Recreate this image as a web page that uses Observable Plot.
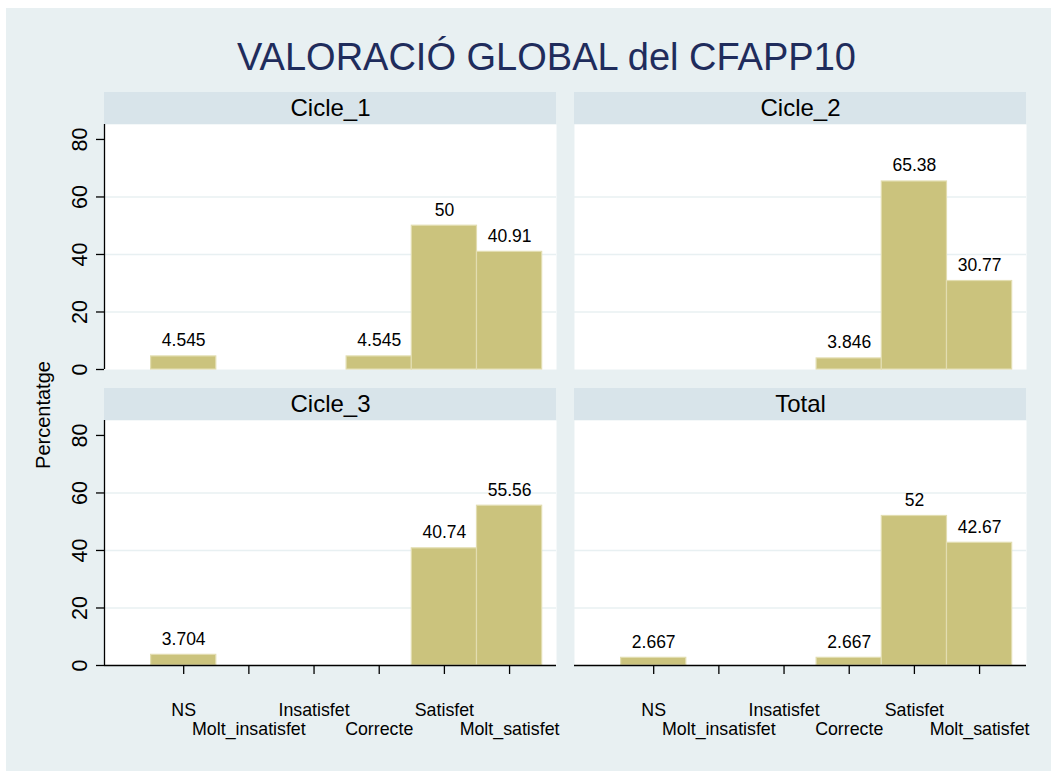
<!DOCTYPE html>
<html>
<head>
<meta charset="utf-8">
<script src="https://cdn.jsdelivr.net/npm/d3@7"></script>
<script src="https://cdn.jsdelivr.net/npm/@observablehq/plot@0.6"></script>
<style>
  html, body { margin: 0; padding: 0; background: #ffffff; }
  body { width: 1051px; height: 771px; position: relative; overflow: hidden; font-family: "Liberation Sans", Arial, sans-serif; }
  #wrap { position: absolute; left: 6px; top: 8px; width: 1045px; height: 763px; background: #e8f0f2; }
  #title { position: absolute; left: 36px; right: 0; top: 30px; text-align: center; font-size: 38px; line-height: 38px; color: #1f2c5c; white-space: nowrap; }
  #ylab { position: absolute; left: 37px; top: 407px; transform: translate(-50%, -50%) rotate(-90deg); font-size: 20px; line-height: 20px; white-space: nowrap; color: #000; }
  #chart { position: absolute; left: 0; top: 84px; }
</style>
</head>
<body>
<div id="wrap">
  <div id="title">VALORACIÓ GLOBAL del CFAPP10</div>
  <div id="ylab">Percentatge</div>
  <div id="chart"></div>
</div>
<script>
// ---- data ----
const categories = ["NS", "Molt_insatisfet", "Insatisfet", "Correcte", "Satisfet", "Molt_satisfet"];
const panels = ["Cicle_1", "Cicle_2", "Cicle_3", "Total"];
const cicle1 = [4.545, 0, 0, 4.545, 50, 40.91];
const cicle2 = [0, 0, 0, 3.846, 65.38, 30.77];
const cicle3 = [3.704, 0, 0, 0, 40.74, 55.56];
const total  = [2.667, 0, 0, 2.667, 52, 42.67];
const yTicks = [0, 20, 40, 60, 80];
const gridTicks = [20, 40, 60];

// ---- build table ----
const seriesByPanel = [cicle1, cicle2, cicle3, total];
const panelRows = panels.map((p, k) => ({panel: p, col: k % 2 === 0 ? "left" : "right", row: k < 2 ? "top" : "bottom"}));
const rows = [];
panelRows.forEach((pr, k) => {
  seriesByPanel[k].forEach((v, i) => rows.push({...pr, i, cat: categories[i], value: v}));
});
const barRows = rows.filter(d => d.value > 0);

const xDomain = [-1.215, 5.72];
const yMax = 85.2;
const barFill = "#cbc37d";
const barStroke = "#e2ddb0";
const stripFill = "#d8e4ea";
const gridColor = "#e8f0f2";

const chart = Plot.plot({
  width: 1045,
  height: 679,
  marginTop: 32,
  marginBottom: 106,
  marginLeft: 98,
  marginRight: 25,
  facet: {marginTop: 0, marginBottom: 0, marginLeft: 0, marginRight: 0},
  fx: {domain: ["left", "right"], paddingInner: 0.0383, paddingOuter: 0, round: false, axis: null},
  fy: {domain: ["top", "bottom"], paddingInner: 0.1723, paddingOuter: 0, round: false, axis: null},
  x: {domain: xDomain, axis: null},
  y: {domain: [0, yMax], axis: null},
  style: {fontFamily: '"Liberation Sans", Arial, sans-serif', fontSize: "17px", background: "transparent", color: "black", overflow: "visible"},
  marks: [
    Plot.frame({fill: "white", stroke: null}),
    Plot.rect(panelRows, {fx: "col", fy: "row", x1: () => xDomain[0], x2: () => xDomain[1], y1: () => yMax, y2: () => yMax, insetTop: -32, fill: stripFill}),
    Plot.gridY({ticks: gridTicks, stroke: gridColor, strokeOpacity: 1, strokeWidth: 1.6}),
    Plot.rectY(barRows, {fx: "col", fy: "row", x1: d => d.i - 0.5, x2: d => d.i + 0.5, y: "value", fill: barFill, stroke: barStroke, strokeWidth: 1.2}),
    Plot.text(barRows, {fx: "col", fy: "row", x: "i", y: "value", text: d => String(d.value), dy: -10, lineAnchor: "bottom", fontSize: 17.5, fill: "black"}),
    Plot.text(panelRows, {fx: "col", fy: "row", text: "panel", frameAnchor: "top", dy: -16, lineAnchor: "middle", fontSize: 24, fill: "black"}),
    Plot.ruleX(panelRows.filter(d => d.col === "left"), {fx: "col", fy: "row", x: () => xDomain[0], stroke: "black", strokeWidth: 1.3}),
    Plot.ruleY(panelRows.filter(d => d.row === "bottom"), {fx: "col", fy: "row", y: () => 0, stroke: "black", strokeWidth: 1.3}),
    Plot.axisY({ticks: yTicks, tickFormat: d => String(d), tickSize: 8, tickPadding: 10, tickRotate: -90, fontSize: 21.5, label: null, stroke: "black", strokeWidth: 1.3, fill: "black"}),
    Plot.axisX({ticks: [0, 2, 4], tickFormat: i => categories[i], tickSize: 9, tickPadding: 28.4, fontSize: 17.8, label: null, stroke: "black", strokeWidth: 1.3, fill: "black"}),
    Plot.axisX({ticks: [1, 3, 5], tickFormat: i => categories[i], tickSize: 9, tickPadding: 47.4, fontSize: 17.8, label: null, stroke: "black", strokeWidth: 1.3, fill: "black"})
  ]
});
document.getElementById("chart").appendChild(chart);
</script>
</body>
</html>
